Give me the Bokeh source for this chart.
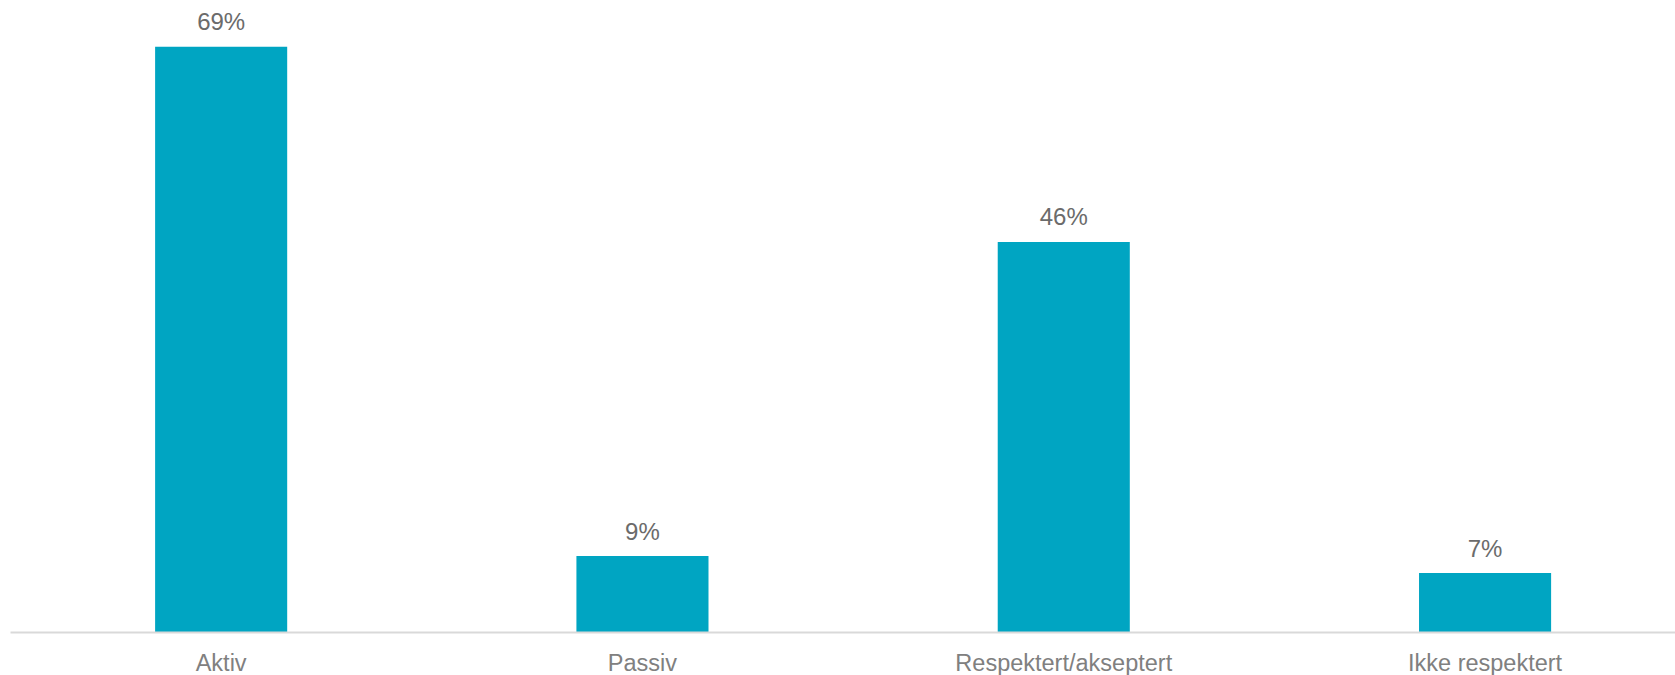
from bokeh.plotting import figure
from bokeh.models import ColumnDataSource, Range1d, FixedTicker
from bokeh.core.properties import value
from bokeh.embed import file_html
from bokeh.resources import INLINE

categories = ["Aktiv", "Passiv", "Respektert/akseptert", "Ikke respektert"]
values = [69, 9, 46, 7]
labels = ["69%", "9%", "46%", "7%"]

xs = list(range(len(categories)))
src = ColumnDataSource(data=dict(x=xs, top=values, label=labels))

p = figure(
    output_backend="svg",
    toolbar_location=None,
    frame_width=1665,
    frame_height=622,
    x_range=Range1d(-0.5, 3.452),
    y_range=Range1d(0, 73.26),
    min_border_left=10,
    min_border_right=0,
    min_border_top=10,
    min_border_bottom=0,
)
p.outline_line_color = None
p.background_fill_color = "white"
p.border_fill_color = "white"
p.grid.visible = False
p.yaxis.visible = False

p.vbar(x="x", top="top", bottom=0, width=0.3135, source=src,
       fill_color="#00A5C2", line_color=None)

p.text(x="x", y="top", text="label", source=src,
       text_font=value("Liberation Sans"), text_font_size="24px",
       text_color="#6b6b6b", text_align="center", text_baseline="alphabetic",
       y_offset=-25)

ax = p.xaxis[0]
ax.ticker = FixedTicker(ticks=xs)
ax.major_label_overrides = {i: c for i, c in enumerate(categories)}
ax.major_tick_line_color = None
ax.minor_tick_line_color = None
ax.major_tick_out = 0
ax.major_tick_in = 0
ax.axis_line_color = "#d9d9d9"
ax.axis_line_width = 2
ax.major_label_standoff = 17
ax.major_label_text_font = "Liberation Sans"
ax.major_label_text_font_size = "23.5px"
ax.major_label_text_color = "#808080"

open("out.html", "w").write(file_html(p, INLINE))
